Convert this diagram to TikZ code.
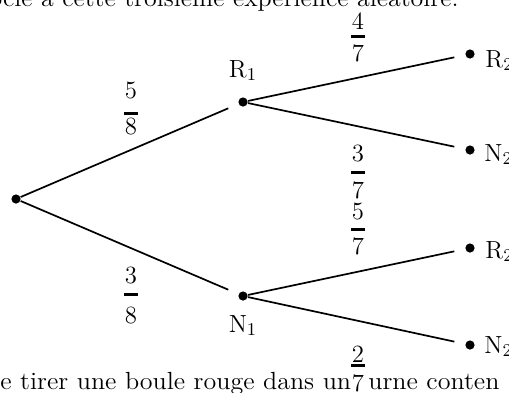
\documentclass[tikz,border=0pt]{standalone}
\usepackage{graphicx}
\begin{document}
\begin{tikzpicture}[x=0.5pt,y=-0.5pt,
  every node/.style={font=\fontsize{12.4}{15}\selectfont, inner sep=0pt},
  dot/.style={circle,fill=black,minimum size=4.6pt,inner sep=0pt},
  branch/.style={line width=0.85pt, shorten >=5.5pt},
  fracbar/.style={fill=black,minimum width=7pt,minimum height=1.5pt,inner sep=0pt}]
\useasboundingbox (0,0) rectangle (509,392);
\begin{scope}
\clip (0,0) rectangle (509,392);
% surrounding page text
\node[anchor=base east] (toptext) at (459,6) {\scalebox{1.045}[1]{ocle à cette troisième expérience aléatoire.}};
\node[anchor=base west] (bottext1) at (0,389) {\scalebox{1.05}[1]{e tirer une boule rouge dans un}};
\node[anchor=base west] (bottext2) at (368,389) {\scalebox{1.05}[1]{urne conten}};
% tree dots
\node[dot] (O) at (16,199) {};
\node[dot] (R1) at (243,102) {};
\node[dot] (N1) at (243,296) {};
\node[dot] (R2a) at (470,54) {};
\node[dot] (N2a) at (470,150) {};
\node[dot] (R2b) at (470,248) {};
\node[dot] (N2b) at (470,345) {};
% labels
\node[anchor=base] (lR1) at (243,77) {R$_1$};
\node[anchor=base] (lN1) at (243,332) {N$_1$};
\node[anchor=base west] (lR2a) at (485,67) {R$_2$};
\node[anchor=base west] (lN2a) at (484,161) {N$_2$};
\node[anchor=base west] (lR2b) at (485,258) {R$_2$};
\node[anchor=base west] (lN2b) at (484,353) {N$_2$};
% branches
\draw[branch] (O) -- (R1);
\draw[branch] (O) -- (N1);
\draw[branch] (R1) -- (R2a);
\draw[branch] (R1) -- (N2a);
\draw[branch] (N1) -- (R2b);
\draw[branch] (N1) -- (N2b);
% probabilities
\node (fAn) at (131,91) {5};
\node[fracbar] (fAb) at (131,113) {};
\node (fAd) at (131,127) {8};
\node (fBn) at (131,276) {3};
\node[fracbar] (fBb) at (131,294.5) {};
\node (fBd) at (131,316) {8};
\node (fCn) at (358,21) {4};
\node[fracbar] (fCb) at (358,36) {};
\node (fCd) at (358,53) {7};
\node (fDn) at (358,154) {3};
\node[fracbar] (fDb) at (358,172) {};
\node (fDd) at (358,190) {7};
\node (fEn) at (358,212) {5};
\node[fracbar] (fEb) at (358,229.5) {};
\node (fEd) at (358,246.5) {7};
\node (fFn) at (358,354) {2};
\node[fracbar] (fFb) at (358,365) {};
\node (fFd) at (358,383) {7};
\end{scope}
\end{tikzpicture}
\end{document}
